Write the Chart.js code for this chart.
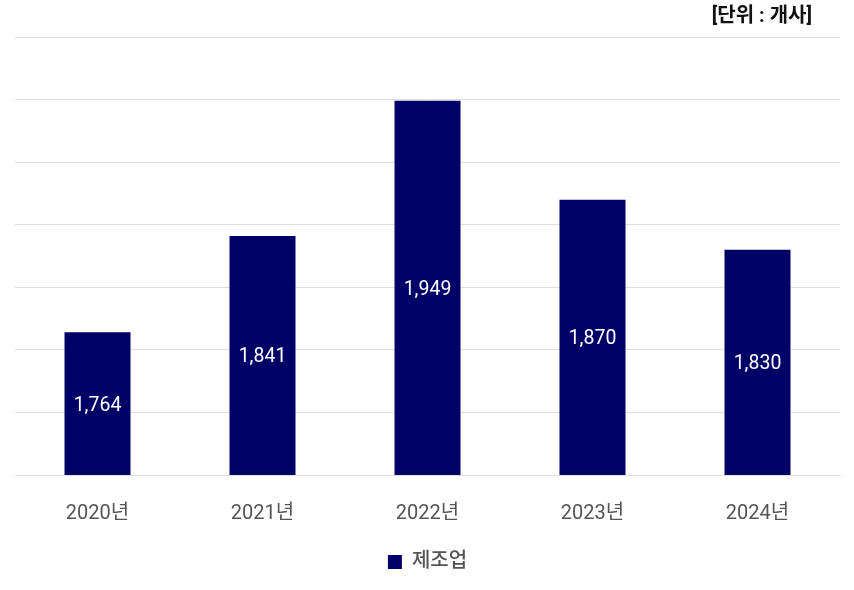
<!DOCTYPE html>
<html>
<head>
<meta charset="utf-8">
<script src="https://cdn.jsdelivr.net/npm/chart.js@4"></script>
<style>
  html, body { margin: 0; padding: 0; background: #fff; }
  #wrap { width: 854px; height: 590px; position: relative; }
</style>
</head>
<body>
<div id="wrap"><canvas id="chart"></canvas></div>
<script>
const years = ['2020년', '2021년', '2022년', '2023년', '2024년'];
const manufacturing = [1764, 1841, 1949, 1870, 1830];
const yMin = 1650;
const yMax = 2000;
const yStep = 50;
const unitLabel = '[단위 : 개사]';

const FONT = "Roboto, 'Noto Sans CJK KR', sans-serif";
Chart.defaults.font.family = FONT;

function withComma(n) {
    return String(n).replace(/\B(?=(\d{3})+(?!\d))/g, ',');
}

const valueLabels = {
    id: 'valueLabels',
    afterDraw(chart) {
        const ctx = chart.ctx;
        const meta = chart.getDatasetMeta(0);
        const yScale = chart.scales.y;
        ctx.save();
        ctx.fillStyle = '#ffffff';
        ctx.font = '19.5px ' + FONT;
        ctx.textAlign = 'center';
        ctx.textBaseline = 'middle';
        meta.data.forEach((bar, i) => {
            const v = chart.data.datasets[0].data[i];
            const top = yScale.getPixelForValue(v);
            const bottom = yScale.bottom;
            ctx.fillText(withComma(v), bar.x, (top + bottom) / 2 + 2);
        });
        ctx.restore();
    }
};

const unitText = {
    id: 'unitText',
    afterDraw(chart) {
        const ctx = chart.ctx;
        ctx.save();
        ctx.fillStyle = '#111';
        ctx.font = 'bold 20px ' + FONT;
        ctx.textAlign = 'right';
        ctx.textBaseline = 'middle';
        ctx.fillText(unitLabel, chart.chartArea.right - 28, 17);
        ctx.restore();
    }
};

new Chart(document.getElementById('chart'), {
    type: 'bar',
    data: {
        labels: years,
        datasets: [{
            label: '제조업',
            data: manufacturing,
            backgroundColor: '#000066',
            barPercentage: 0.4,
            categoryPercentage: 1
        }]
    },
    options: {
        responsive: true,
        maintainAspectRatio: false,
        animation: false,
        layout: { padding: { left: 15, right: 14, top: 37, bottom: 8 } },
        plugins: {
            legend: {
                position: 'bottom',
                labels: {
                    boxWidth: 14,
                    boxHeight: 14,
                    padding: 7,
                    color: '#555',
                    font: { size: 20, weight: '500' }
                }
            },
            tooltip: { enabled: false }
        },
        scales: {
            y: {
                min: yMin,
                max: yMax,
                ticks: { display: false, stepSize: yStep },
                grid: { color: '#dddddd', drawTicks: false },
                border: { display: false }
            },
            x: {
                grid: { display: false },
                border: { color: '#dddddd' },
                ticks: { color: '#555', padding: 19, font: { size: 20 } }
            }
        }
    },
    plugins: [valueLabels, unitText]
});
</script>
</body>
</html>
